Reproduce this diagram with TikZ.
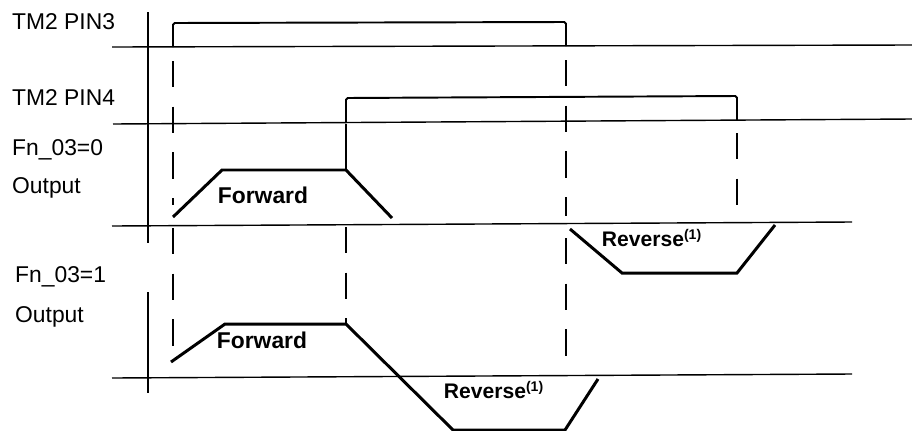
\documentclass[tikz,border=0pt]{standalone}
\usepackage{fontspec}
\setmainfont{Liberation Sans}
\usetikzlibrary{positioning}

\begin{document}
\begin{tikzpicture}[
  x=0.02cm, y=-0.02cm,
  axis/.style={line width=0.8pt},
  base/.style={line width=0.8pt},
  wave/.style={line width=1.1pt,rounded corners=1pt},
  outline/.style={line width=1.7pt},
  guide/.style={line width=1.1pt,dash pattern=on 15pt off 11pt},
  sig/.style={anchor=west,font=\fontsize{13}{15}\selectfont},
  dir/.style={font=\bfseries\fontsize{13}{15}\selectfont},
]
  \useasboundingbox (0,0) rectangle (912,430);

  % signal names
  \node[sig] (pin3) at (6,22) {TM2 PIN3};
  \node[sig] (pin4) at (6,98) {TM2 PIN4};
  \node[sig] (fn0) at (6,150) {Fn\_03=0};
  \node[sig] (out0) at (6,188) {Output};
  \node[sig] (fn1) at (9,277) {Fn\_03=1};
  \node[sig] (out1) at (9,317) {Output};

  % time axis and base lines
  \draw[axis] (148,12) -- (148,243);
  \draw[axis] (148,292) -- (148,393);
  \draw[base] (112,47) -- (912,45);
  \draw[base] (113,124) -- (912,119);
  \draw[base] (112,226) -- (852,222);
  \draw[base] (112,378) -- (852,374);

  % input pulses
  \draw[wave] (173,47) -- (173,23) -- (566,22) -- (566,46);
  \draw[wave] (346,123) -- (346,98) -- (737,96) -- (737,120);

  % guide lines
  \draw[guide] (173,61) -- (173,205);
  \draw[guide] (173,228) -- (173,350);
  \draw[guide,dash pattern=on 26pt off 3pt] (346,124) -- (346,170);
  \draw[guide] (346,227) -- (346,324);
  \draw[guide] (566,60) -- (566,216);
  \draw[guide] (566,238) -- (566,368);
  \draw[guide] (737,133) -- (737,213);

  % output, Fn_03=0
  \draw[outline] (173,217) -- (222,170) -- (346,170) -- (392,218);
  \draw[outline] (570,229) -- (622,273) -- (737,273) -- (775,225);
  \node[dir] (fwd0) at (263,195) {Forward};
  \node[dir,font=\bfseries\fontsize{12}{14}\selectfont] (rev0) at (652,238)
    {Reverse\textsuperscript{(1)}};

  % output, Fn_03=1
  \draw[outline] (171,362) -- (225,324) -- (346,324) -- (453,430) -- (565,430) -- (598,379);
  \node[dir] (fwd1) at (262,340) {Forward};
  \node[dir,font=\bfseries\fontsize{12}{14}\selectfont] (rev1) at (494,390)
    {Reverse\textsuperscript{(1)}};
\end{tikzpicture}
\end{document}
